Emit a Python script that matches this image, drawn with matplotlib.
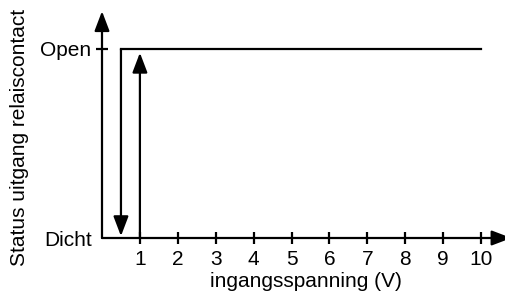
import matplotlib.pyplot as plt

plt.rcParams['font.family'] = ['Liberation Sans', 'DejaVu Sans']

# hysteresis of the relay contact
v_on = 1.0      # switches to Open when rising
v_off = 0.5     # switches back to Dicht when falling
v_max = 10.0
levels = [0, 1]
level_labels = ['Dicht', 'Open']
x_ticks = [1, 2, 3, 4, 5, 6, 7, 8, 9, 10]

fig = plt.figure(figsize=(5.05, 2.95), dpi=100)
ax = fig.add_axes([102 / 505, 57 / 295, 403 / 505, 226.8 / 295])
ax.set_xlim(0, 10.63)
ax.set_ylim(0, 1.2)

for s in ax.spines.values():
    s.set_visible(False)

lw = 1.6
fs = 15
head = dict(arrowstyle='-|>,head_length=1.0,head_width=0.38', color='black',
            lw=lw, shrinkA=0, shrinkB=0, mutation_scale=12)

# axes with arrow heads (x arrow runs a bit past the right edge)
ax.annotate('', xy=(0, 1.2), xytext=(0, 0), arrowprops=head, annotation_clip=False)
ax.annotate('', xy=(10.8, 0), xytext=(0, 0), arrowprops=head, annotation_clip=False)

# Open level from switch-off point to the end
ax.plot([v_off, v_max], [levels[1], levels[1]], color='black', lw=lw,
        solid_capstyle='projecting')
# falling: down at v_off
ax.annotate('', xy=(v_off, levels[0] + 0.01), xytext=(v_off, levels[1]), arrowprops=head)
# rising: up at v_on
ax.annotate('', xy=(v_on, levels[1] - 0.02), xytext=(v_on, levels[0]), arrowprops=head)

ax.set_xticks(x_ticks)
ax.set_xticklabels([str(t) for t in x_ticks])
ax.set_yticks(levels)
ax.set_yticklabels(level_labels)
ax.tick_params(axis='both', direction='inout', length=9, width=lw, labelsize=fs,
               colors='black')
ax.tick_params(axis='x', pad=4)
ax.tick_params(axis='y', pad=3)
ax.yaxis.get_major_ticks()[0].tick1line.set_visible(False)

ax.set_xlabel('ingangsspanning (V)', fontsize=fs)
ax.xaxis.set_label_coords(0.507, -0.152)
ax.set_ylabel('Status uitgang relaiscontact', fontsize=fs)
ax.yaxis.set_label_coords(-73 / 403, 0.445)

fig.savefig('out.png', dpi=100)
